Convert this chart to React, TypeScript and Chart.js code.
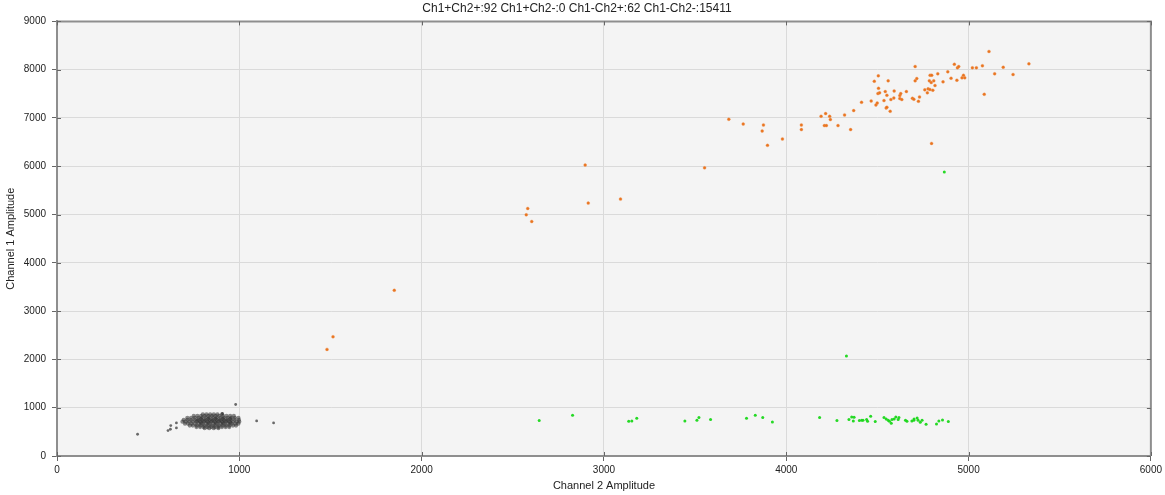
import React, { useEffect, useRef } from "react";
import { Chart, registerables } from "chart.js";

Chart.register(...registerables);

const titleText = "Ch1+Ch2+:92 Ch1+Ch2-:0 Ch1-Ch2+:62 Ch1-Ch2-:15411";
const xTitle = "Channel 2 Amplitude";
const yTitle = "Channel 1 Amplitude";

// Ch1+Ch2+ (orange) droplets: [channel2, channel1]
const doublePositive: [number, number][] = [
  [1481, 2208], [1514, 2470], [1850, 3432], [2574, 4995], [2582, 5126], [2604, 4856],
  [2897, 6026], [2914, 5237], [3091, 5320], [3552, 5967],
  [3685, 6973], [3764, 6876], [3875, 6856], [3868, 6732], [3897, 6433], [3979, 6566],
  [4083, 6856], [4083, 6759], [4191, 7035], [4216, 7091], [4238, 7035], [4242, 6966],
  [4209, 6842], [4220, 6842], [4284, 6842], [4320, 7064], [4353, 6759], [4370, 7153],
  [4413, 7325], [4466, 7354], [4492, 7271], [4499, 7312], [4483, 7761], [4505, 7872],
  [4506, 7616], [4503, 7506], [4512, 7520], [4536, 7360], [4543, 7547], [4552, 7470],
  [4559, 7769], [4548, 7209], [4552, 7222], [4570, 7139], [4574, 7382], [4590, 7416],
  [4592, 7561], [4623, 7464], [4628, 7506], [4623, 7402], [4634, 7382], [4659, 7547],
  [4692, 7409], [4700, 7388], [4707, 8066], [4707, 7769], [4716, 7817], [4725, 7346],
  [4731, 7437], [4760, 7582], [4774, 7520], [4778, 7603], [4785, 7769], [4789, 7885],
  [4798, 7885], [4795, 7734], [4788, 7589], [4804, 7575], [4809, 7769], [4816, 7672],
  [4797, 6474], [4831, 7914], [4860, 7748], [4886, 7956], [4904, 7823], [4922, 8113],
  [4936, 7782], [4939, 8039], [4946, 8066], [4964, 7831], [4972, 7885], [4979, 7831],
  [5021, 8039], [5043, 8039], [5076, 8081], [5086, 7491], [5112, 8377], [5143, 7914],
  [5190, 8052], [5244, 7900], [5331, 8122],
];

// Ch1-Ch2+ (green) droplets
const ch2Positive: [number, number][] = [
  [2645, 735], [2828, 845], [3136, 720], [3153, 726], [3180, 782], [3444, 726],
  [3510, 741], [3521, 797], [3585, 755], [3782, 782], [3830, 845], [3871, 797],
  [3924, 706], [4183, 797], [4278, 735], [4344, 755], [4359, 809], [4372, 803],
  [4368, 726], [4401, 735], [4414, 741], [4421, 741], [4441, 755], [4446, 720],
  [4463, 824], [4488, 714], [4536, 797], [4548, 768], [4559, 741], [4566, 720],
  [4576, 679], [4580, 755], [4592, 768], [4601, 809], [4614, 755], [4618, 797],
  [4654, 741], [4662, 720], [4689, 726], [4700, 741], [4701, 768], [4718, 789],
  [4723, 741], [4735, 699], [4745, 741], [4767, 658], [4824, 665], [4837, 726],
  [4857, 747], [4889, 714], [4330, 2069], [4867, 5881],
];

// Ch1-Ch2- (gray) droplets: dense cluster read row by row, plus stragglers
const negCluster: [number, number][] = [
  [800, 860], [820, 860], [840, 860], [860, 860], [880, 860], [905, 865],
  [750, 830], [770, 830], [790, 830], [810, 830], [830, 830], [850, 830], [870, 830],
  [890, 830], [910, 830], [930, 830], [950, 830], [970, 830],
  [715, 790], [735, 790], [755, 790], [775, 790], [795, 790], [815, 790], [835, 790],
  [855, 790], [875, 790], [895, 790], [915, 790], [935, 790], [955, 790], [975, 790],
  [995, 790],
  [695, 750], [715, 750], [735, 750], [755, 750], [775, 750], [795, 750], [815, 750],
  [835, 750], [855, 750], [875, 750], [895, 750], [915, 750], [935, 750], [955, 750],
  [975, 750], [998, 750],
  [688, 710], [705, 710], [725, 710], [745, 710], [765, 710], [785, 710], [805, 710],
  [825, 710], [845, 710], [865, 710], [885, 710], [905, 710], [925, 710], [945, 710],
  [965, 710], [985, 710], [1000, 710],
  [702, 670], [720, 670], [740, 670], [760, 670], [780, 670], [800, 670], [820, 670],
  [840, 670], [860, 670], [880, 670], [900, 670], [920, 670], [940, 670], [960, 670],
  [980, 670], [995, 670],
  [728, 630], [745, 630], [765, 630], [785, 630], [805, 630], [825, 630], [845, 630],
  [865, 630], [885, 630], [905, 630], [925, 630], [945, 630], [965, 630], [982, 630],
  [765, 598], [785, 598], [805, 598], [825, 598], [845, 598], [865, 598], [885, 598],
  [905, 598], [925, 598], [945, 598],
  [810, 575], [835, 575], [860, 575], [885, 575],
  [790, 770], [830, 770], [870, 770], [910, 770], [950, 770],
  [770, 730], [810, 730], [850, 730], [890, 730], [930, 730],
  [790, 690], [830, 690], [870, 690], [910, 690], [950, 690],
];
const negOutliers: [number, number][] = [
  [442, 450], [609, 527], [622, 554], [624, 631], [655, 581], [655, 685],
  [980, 1066], [1095, 726], [1188, 685], [907, 880],
];

const xTicks = [0, 1000, 2000, 3000, 4000, 5000, 6000];
const yTicks = [0, 1000, 2000, 3000, 4000, 5000, 6000, 7000, 8000, 9000];

const toPts = (arr: [number, number][]) => arr.map(([x, y]) => ({ x, y }));

const framePlugin = {
  id: "frame",
  beforeDraw(chart: any) {
    const { ctx, chartArea } = chart;
    if (!chartArea) return;
    ctx.save();
    ctx.fillStyle = "#f4f4f4";
    ctx.fillRect(chartArea.left, chartArea.top, chartArea.right - chartArea.left, chartArea.bottom - chartArea.top);
    ctx.restore();
  },
  beforeDatasetsDraw(chart: any) {
    const { ctx, chartArea } = chart;
    const { left, right, top, bottom } = chartArea;
    const xs = chart.scales.x;
    const ys = chart.scales.y;
    ctx.save();
    ctx.strokeStyle = "#8e8e8e";
    ctx.lineWidth = 2;
    ctx.beginPath();
    ctx.moveTo(left, top);
    ctx.lineTo(right, top);
    ctx.lineTo(right, bottom);
    ctx.stroke();
    ctx.strokeStyle = "#666666";
    ctx.lineWidth = 1;
    ctx.beginPath();
    xs.ticks.forEach((t: any) => {
      const px = Math.round(xs.getPixelForValue(t.value)) + 0.5;
      ctx.moveTo(px, bottom);
      ctx.lineTo(px, bottom - 4);
      ctx.moveTo(px, top);
      ctx.lineTo(px, top + 4);
    });
    ys.ticks.forEach((t: any) => {
      const py = Math.round(ys.getPixelForValue(t.value)) + 0.5;
      ctx.moveTo(left, py);
      ctx.lineTo(left + 4, py);
      ctx.moveTo(right, py);
      ctx.lineTo(right - 4, py);
    });
    ctx.stroke();
    ctx.restore();
  },
};

export default function App() {
  const canvasRef = useRef<HTMLCanvasElement | null>(null);

  useEffect(() => {
    if (!canvasRef.current) return;
    const font = "'Liberation Sans', Arial, sans-serif";
    const chart = new Chart(canvasRef.current, {
      type: "scatter",
      data: {
        datasets: [
          {
            label: "Ch1-Ch2-",
            data: toPts(negCluster),
            backgroundColor: "rgba(45,45,45,0.55)",
            borderWidth: 0,
            pointRadius: 2.1,
          },
          {
            label: "Ch1-Ch2- outliers",
            data: toPts(negOutliers),
            backgroundColor: "rgba(80,80,80,0.85)",
            borderWidth: 0,
            pointRadius: 1.4,
          },
          {
            label: "Ch1+Ch2+",
            data: toPts(doublePositive),
            backgroundColor: "rgba(232,110,20,0.95)",
            borderColor: "rgba(240,150,90,0.6)",
            borderWidth: 0.6,
            pointRadius: 1.5,
          },
          {
            label: "Ch1-Ch2+",
            data: toPts(ch2Positive),
            backgroundColor: "rgba(25,215,25,0.95)",
            borderWidth: 0,
            pointRadius: 1.5,
          },
        ],
      },
      options: {
        animation: false,
        responsive: false,
        maintainAspectRatio: false,
        layout: { padding: { left: 0, right: 11, top: 0, bottom: 0 } },
        plugins: {
          legend: { display: false },
          tooltip: { enabled: false },
          title: {
            display: true,
            text: titleText,
            color: "#222",
            font: { family: font, size: 12, weight: "normal" },
            padding: { top: 1, bottom: 6 },
          },
        },
        scales: {
          x: {
            type: "linear",
            min: 0,
            max: 6000,
            afterBuildTicks: (s: any) => {
              s.ticks = xTicks.map((v) => ({ value: v }));
            },
            afterFit: (s: any) => {
              s.height = 39;
            },
            ticks: {
              color: "#222",
              font: { family: font, size: 10 },
              padding: 3,
              maxRotation: 0,
              callback: (v: any) => String(v),
            },
            grid: { color: "#dadada", lineWidth: 1, tickLength: 5, tickColor: "#666" },
            border: { color: "#8e8e8e", width: 2 },
            title: {
              display: true,
              text: xTitle,
              color: "#222",
              font: { family: font, size: 11 },
              padding: { top: 0, bottom: 2 },
            },
          },
          y: {
            type: "linear",
            min: 0,
            max: 9000,
            afterBuildTicks: (s: any) => {
              s.ticks = yTicks.map((v) => ({ value: v }));
            },
            afterFit: (s: any) => {
              s.width = 57;
            },
            ticks: {
              color: "#222",
              font: { family: font, size: 10 },
              padding: 6,
              callback: (v: any) => String(v),
            },
            grid: { color: "#dadada", lineWidth: 1, tickLength: 5, tickColor: "#666" },
            border: { color: "#8e8e8e", width: 2 },
            title: {
              display: true,
              text: yTitle,
              color: "#222",
              font: { family: font, size: 11 },
              padding: { top: 4, bottom: 0 },
            },
          },
        },
      },
      plugins: [framePlugin],
    });
    return () => chart.destroy();
  }, []);

  return (
    <div style={{ position: "fixed", left: 0, top: 0, width: 1165, height: 495, background: "#fff" }}>
      <canvas ref={canvasRef} width={1165} height={495} style={{ width: 1165, height: 495, display: "block" }} />
    </div>
  );
}
